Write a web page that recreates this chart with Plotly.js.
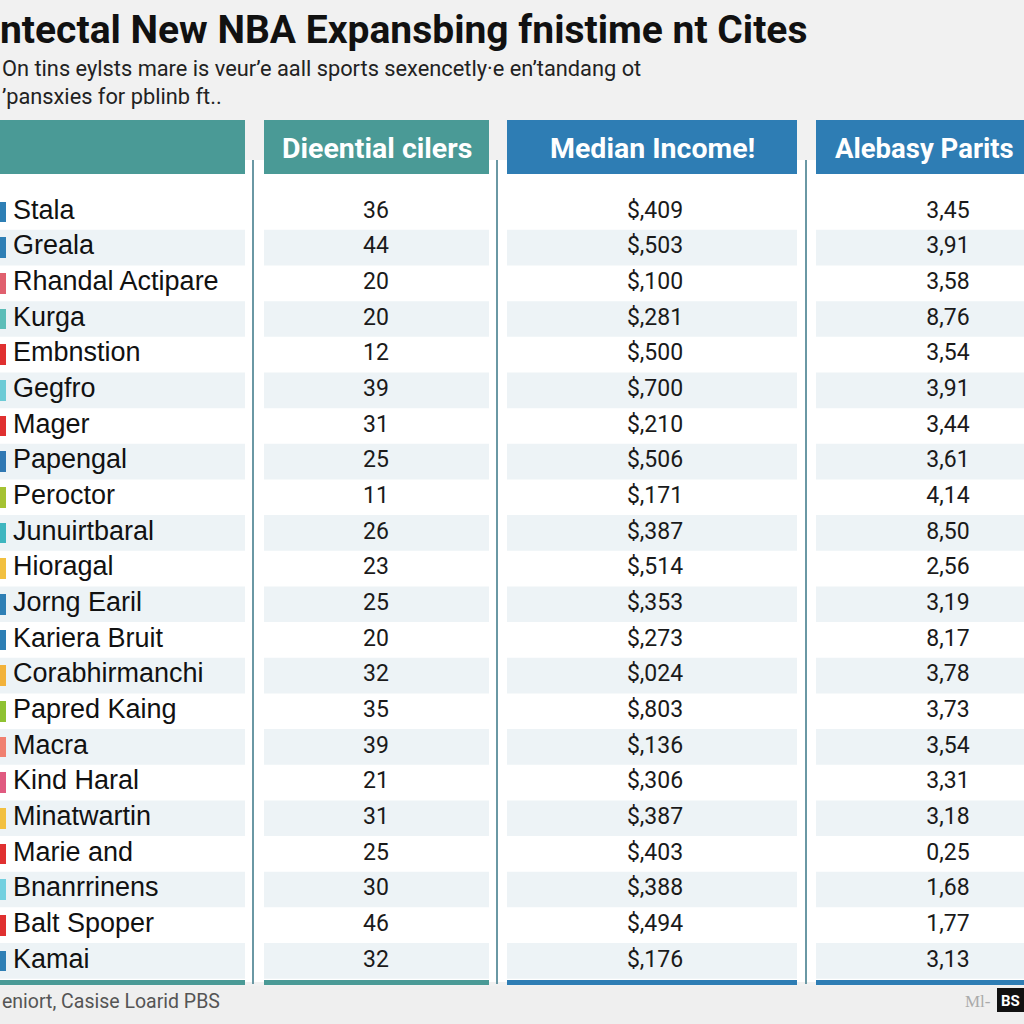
<!DOCTYPE html>
<html>
<head>
<meta charset="utf-8">
<script src="https://cdn.plot.ly/plotly-3.0.1.min.js"></script>
<style>html,body{margin:0;padding:0;background:#f0f0f0;}#chart{width:1024px;height:1024px;}</style>
</head>
<body>
<div id="chart"></div>
<script>
// ---- data ----
const cities = ["Stala","Greala","Rhandal Actipare","Kurga","Embnstion","Gegfro","Mager","Papengal","Peroctor","Junuirtbaral","Hioragal","Jorng Earil","Kariera Bruit","Corabhirmanchi","Papred Kaing","Macra","Kind Haral","Minatwartin","Marie and","Bnanrrinens","Balt Spoper","Kamai"];
const residents = [36,44,20,20,12,39,31,25,11,26,23,25,20,32,35,39,21,31,25,30,46,32];
const income = [409,503,100,281,500,700,210,506,171,387,514,353,273,24,803,136,306,387,403,388,494,176];
const parits = [3.45,3.91,3.58,8.76,3.54,3.91,3.44,3.61,4.14,8.50,2.56,3.19,8.17,3.78,3.73,3.54,3.31,3.18,0.25,1.68,1.77,3.13];
const markerColors = ["#2e7fb5","#2e7fb5","#e0606e","#5bbdb8","#e03030","#6ccbd6","#e03030","#2f78b3","#a5c232","#3fb6c0","#f2c040","#2e7fb5","#2e7fb5","#f2b23a","#8fc232","#f08070","#e05a80","#f2c040","#e03030","#72d0e0","#e03030","#2e7fb5"];
const headers = ["", "Dieential cilers", "Median Income!", "Alebasy Parits"];
const titleText = "ntectal New NBA Expansbing fnistime nt Cites";
const subtitleText = "On tins eylsts mare is veur’e aall sports sexencetly·e en’tandang ot<br>’pansxies for pblinb ft..";
const sourceText = "eniort, Casise Loarid PBS";

// ---- layout constants (pixels) ----
const W = 1024, H = 1024;
const rowTop = 212, rowStep = 35.66;
const cols = [[0,245],[264,489],[507,797],[816,1024]];
const headColors = ["#4a9a96","#4a9a96","#2e7db4","#2e7db4"];
const seps = [253,497,806];
const colCenters = [0,376,655,948];
const py = p => 1 - p/H; // pixel to paper
const idx = cities.map((_, i) => i);

const fmtIncome = v => "$," + String(v).padStart(3, "0");
const fmtParits = v => v.toFixed(2).replace(".", ",");

const shapes = [];
shapes.push({type:"rect", xref:"paper", yref:"paper", x0:0, x1:1, y0:py(982), y1:py(160), fillcolor:"#ffffff", line:{width:0}, layer:"below"});
shapes.push({type:"rect", xref:"paper", yref:"paper", x0:0, x1:1, y0:0, y1:py(986), fillcolor:"#efefef", line:{width:0}, layer:"below"});
idx.forEach(i => {
  if (i % 2 === 1) {
    cols.forEach(c => shapes.push({type:"rect", xref:"x", yref:"y", x0:c[0], x1:c[1], y0:i-0.5, y1:i+0.5, fillcolor:"#edf3f6", line:{width:0}, layer:"below"}));
  }
});
cols.forEach((c, k) => shapes.push({type:"rect", xref:"x", yref:"paper", x0:c[0], x1:c[1], y0:py(174), y1:py(120), fillcolor:headColors[k], line:{width:0}}));
seps.forEach(x => shapes.push({type:"line", xref:"x", yref:"paper", x0:x, x1:x, y0:py(984), y1:py(160), line:{color:"#6a98a4", width:2}}));
cols.forEach((c, k) => shapes.push({type:"rect", xref:"x", yref:"paper", x0:c[0], x1:c[1], y0:py(985), y1:py(980), fillcolor:headColors[k], line:{width:0}}));
shapes.push({type:"rect", xref:"x", yref:"paper", x0:997, x1:1024, y0:py(1012), y1:py(988), fillcolor:"#111111", line:{width:0}});

const annotations = [];
annotations.push({text:"<b>"+titleText+"</b>", xref:"paper", yref:"paper", x:-0.002, y:py(30), xanchor:"left", yanchor:"middle", showarrow:false, font:{family:"Roboto, Arial, sans-serif", size:39, color:"#111111"}});
annotations.push({text:subtitleText, xref:"paper", yref:"paper", x:0, y:py(82), xanchor:"left", yanchor:"middle", align:"left", showarrow:false, font:{family:"Roboto, Arial, sans-serif", size:21.8, color:"#222222"}});
headers.forEach((h, k) => {
  if (!h) return;
  const last = k === 3;
  annotations.push({text:"<b>"+h+"</b>", xref:"x", yref:"paper", x: last ? 833 : (cols[k][0]+cols[k][1])/2, y:py(148), xanchor: last ? "left" : "center", yanchor:"middle", showarrow:false, font:{family:"Roboto, Arial, sans-serif", size: last ? 27.5 : 28.5, color:"#ffffff"}});
});
annotations.push({text:sourceText, xref:"paper", yref:"paper", x:0, y:py(1001), xanchor:"left", yanchor:"middle", showarrow:false, font:{family:"Roboto, Arial, sans-serif", size:19.5, color:"#555555"}});
annotations.push({text:"Ml-", xref:"x", yref:"paper", x:993, y:py(1001), xanchor:"right", yanchor:"middle", showarrow:false, font:{family:"Liberation Serif, serif", size:17, color:"#aaaaaa"}});
annotations.push({text:"<b>BS</b>", xref:"x", yref:"paper", x:999, y:py(1001), xanchor:"left", yanchor:"middle", showarrow:false, font:{family:"Roboto, Arial, sans-serif", size:15, color:"#ffffff"}});

const numFont = {family:"Roboto, Arial, sans-serif", size:23, color:"#1a1a1a"};
const traces = [
  {type:"bar", orientation:"h", y:idx, x:cities.map(() => 6), base:0, width:0.58, marker:{color:markerColors}, hoverinfo:"skip", showlegend:false},
  {type:"scatter", mode:"text", x:cities.map(() => 13), y:idx, text:cities, textposition:"middle right", textfont:{family:"Liberation Sans, Arial, sans-serif", size:27, color:"#111111"}, hoverinfo:"skip", showlegend:false},
  {type:"scatter", mode:"text", x:residents.map(() => colCenters[1]), y:idx, text:residents.map(String), textposition:"middle center", textfont:numFont, hoverinfo:"skip", showlegend:false},
  {type:"scatter", mode:"text", x:income.map(() => colCenters[2]), y:idx, text:income.map(fmtIncome), textposition:"middle center", textfont:numFont, hoverinfo:"skip", showlegend:false},
  {type:"scatter", mode:"text", x:parits.map(() => colCenters[3]), y:idx, text:parits.map(fmtParits), textposition:"middle center", textfont:numFont, hoverinfo:"skip", showlegend:false}
];

const layout = {
  width:W, height:H,
  margin:{l:0, r:0, t:0, b:0},
  paper_bgcolor:"#f1f1f1", plot_bgcolor:"rgba(0,0,0,0)",
  xaxis:{range:[0, W], visible:false, fixedrange:true},
  yaxis:{range:[(H-rowTop)/rowStep, -rowTop/rowStep], visible:false, fixedrange:true},
  bargap:0,
  shapes:shapes, annotations:annotations, showlegend:false
};
Plotly.newPlot("chart", traces, layout, {displayModeBar:false, staticPlot:true});
</script>
</body>
</html>
